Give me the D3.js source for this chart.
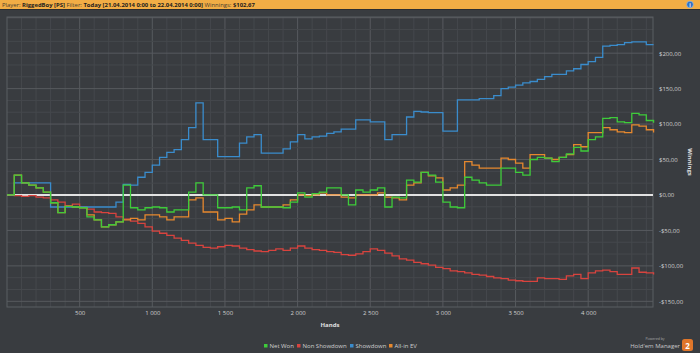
<!DOCTYPE html>
<html>
<head>
<meta charset="utf-8">
<script src="https://cdn.jsdelivr.net/npm/d3@7"></script>
<style>
  body { margin:0; background:#393c40; }
  svg { display:block; font-family:"Open Sans", sans-serif; }
</style>
</head>
<body>
<svg id="drawing_region"></svg>
<script>
// hands sampled every 50
const hands = d3.range(0, 4451, 50);

const netWon = [0,28,17,14,10,4,-11,-25,-16,-17,-18,-31,-35,-45,-42,-38,14,-18,-21,-18,
  -17,-18,-24,-21,-21,4,17,0,0,-18,-18,-17,-21,10,13,-17,-17,-17,-18,-10,
  3,-3,2,4,10,10,0,-14,7,4,7,10,-17,-3,-4,21,18,32,28,18,
  -10,-17,-18,25,21,17,14,14,38,38,32,28,50,53,52,47,53,58,67,62,
  78,82,108,109,103,102,115,113,105,102];

const nonShowdown = [0,-1,-2,-1,-3,-4,-7,-10,-15,-13,-17,-20,-24,-25,-26,-31,-34,-37,-40,-45,
  -51,-54,-57,-61,-64,-68,-71,-74,-75,-73,-71,-72,-75,-77,-79,-80,-78,-76,-78,-75,
  -72,-75,-77,-78,-80,-81,-84,-85,-83,-80,-76,-78,-82,-86,-90,-92,-95,-97,-99,-102,
  -104,-107,-108,-110,-112,-113,-115,-117,-118,-120,-121,-122,-122,-117,-118,-118,-119,-114,-112,-118,
  -110,-107,-106,-108,-112,-112,-103,-109,-110,-112];

const showdown = [0,17,17,17,17,17,-17,-17,-17,-17,-17,-17,-17,-17,-17,-10,15,14,25,32,
  42,53,60,64,78,95,130,78,78,54,54,54,73,82,85,59,59,59,65,75,
  85,79,82,83,87,89,93,93,106,106,103,103,78,85,85,110,118,117,116,116,
  90,90,134,134,134,136,136,140,150,152,155,158,160,163,167,170,170,175,178,184,
  188,194,210,211,212,215,216,216,212,212];

const allInEV = [0,28,17,14,10,4,-11,-25,-16,-17,-18,-28,-35,-45,-42,-38,-35,-33,-35,-28,
  -28,-31,-35,-31,-31,-7,-4,-24,-24,-35,-33,-38,-27,-21,-14,-17,-17,-17,-14,-7,
  0,-1,0,3,0,0,-3,-4,0,0,0,3,-3,-4,-7,14,17,32,27,24,
  7,10,14,47,42,38,38,38,52,50,45,38,57,57,52,50,53,57,71,68,
  88,88,95,92,89,88,99,97,92,88];

const series = [
  { name: 'Net Won',      color: '#3ecb3a', values: netWon },
  { name: 'Non Showdown', color: '#d8433e', values: nonShowdown },
  { name: 'Showdown',     color: '#3a8ccc', values: showdown },
  { name: 'All-in EV',    color: '#e6882e', values: allInEV }
];
const drawOrder = [1, 2, 3, 0];

const yTicks = [-150, -100, -50, 0, 50, 100, 150, 200];
const xTicks = [500, 1000, 1500, 2000, 2500, 3000, 3500, 4000];

const W = 700, H = 353;
const plot = { left: 7, right: 653, top: 17, bottom: 307 };

const svg = d3.select('#drawing_region').attr('width', W).attr('height', H);

svg.append('rect').attr('width', W).attr('height', H).attr('fill', '#393c40');

// header bar
svg.append('rect').attr('x', 0).attr('y', 0).attr('width', W).attr('height', 9).attr('fill', '#f2ad45');
svg.append('rect').attr('x', 0).attr('y', 9).attr('width', W).attr('height', 1).attr('fill', '#2c2e31');
const head = svg.append('text').attr('x', 2).attr('y', 6.5).attr('font-size', 5.9).attr('fill', '#2a2a2a');
[['Player: ', false], ['RiggedBoy [PS]', true], [' Filter: ', false],
 ['Today [21.04.2014 0:00 to 22.04.2014 0:00]', true], [' Winnings: ', false], ['$102,67', true]]
  .forEach(p => {
    head.append('tspan').text(p[0])
      .attr('font-weight', p[1] ? 'bold' : 'normal')
      .attr('fill', p[1] ? '#1e1e1e' : '#4a4030');
  });
svg.append('circle').attr('cx', 690).attr('cy', 4.5).attr('r', 3.3).attr('fill', '#2f6fc0').attr('stroke', '#9cc3ee').attr('stroke-width', 0.6);
svg.append('text').attr('x', 690).attr('y', 6.6).attr('text-anchor', 'middle').attr('font-size', 5).attr('font-weight', 'bold').attr('fill', '#fff').text('i');

const x = d3.scaleLinear().domain([0, 4446]).range([plot.left, plot.right]);
const y = d3.scaleLinear().domain([-158, 251]).range([plot.bottom, plot.top]);

const g = svg.append('g');

// grid
g.selectAll('.vminor').data(d3.range(100, 4446, 100)).join('line')
  .attr('x1', d => x(d)).attr('x2', d => x(d))
  .attr('y1', plot.top).attr('y2', plot.bottom)
  .attr('stroke', d => d % 500 === 0 ? '#575a5e' : '#45484c').attr('stroke-width', 1);
g.selectAll('.hminor').data(d3.range(-150, 251, 50 / 3)).join('line')
  .attr('x1', plot.left).attr('x2', plot.right)
  .attr('y1', d => y(d)).attr('y2', d => y(d))
  .attr('stroke', d => Math.abs(d % 50) < 0.01 || Math.abs(Math.abs(d % 50) - 50) < 0.01 ? '#575a5e' : '#45484c');
g.append('rect').attr('x', plot.left).attr('y', plot.top)
  .attr('width', plot.right - plot.left).attr('height', plot.bottom - plot.top)
  .attr('fill', 'none').attr('stroke', '#5b5e62');

// zero line
g.append('line').attr('x1', plot.left).attr('x2', plot.right)
  .attr('y1', y(0)).attr('y2', y(0)).attr('stroke', '#e2e2e2').attr('stroke-width', 2);

// lines
const line = d3.line().x((d, i) => x(hands[i])).y(d => y(d)).curve(d3.curveStepAfter);
drawOrder.forEach(k => {
  g.append('path').datum(series[k].values)
    .attr('fill', 'none').attr('stroke', series[k].color)
    .attr('stroke-width', 1.3).attr('d', line);
});

// axes (labels only)
const fmt = v => (v < 0 ? '-' : '') + '$' + Math.abs(v) + ',00';
const yAxis = d3.axisRight(y).tickValues(yTicks).tickSize(0).tickPadding(0).tickFormat(fmt);
svg.append('g').attr('transform', `translate(${plot.right + 6},0)`).call(yAxis)
  .call(a => a.select('.domain').remove())
  .selectAll('text').attr('font-size', 6).attr('fill', '#d0d0d0').attr('font-family', '"Open Sans", sans-serif');

const xAxis = d3.axisBottom(x).tickValues(xTicks).tickSize(0).tickPadding(0)
  .tickFormat(v => d3.format(',')(v).replace(',', ' '));
svg.append('g').attr('transform', `translate(0,${plot.bottom + 4})`).call(xAxis)
  .call(a => a.select('.domain').remove())
  .selectAll('text').attr('font-size', 6).attr('fill', '#d0d0d0').attr('font-family', '"Open Sans", sans-serif');

svg.append('text').attr('x', 330).attr('y', 327).attr('text-anchor', 'middle')
  .attr('font-size', 6).attr('font-weight', 'bold').attr('fill', '#e0e0e0').text('Hands');
svg.append('text').attr('transform', 'translate(688,162) rotate(90)').attr('text-anchor', 'middle')
  .attr('font-size', 6).attr('font-weight', 'bold').attr('fill', '#e0e0e0').text('Winnings');

// legend
const legendX = [264, 297, 350, 389];
series.forEach((s, i) => {
  svg.append('rect').attr('x', legendX[i]).attr('y', 344).attr('width', 3.5).attr('height', 3.5).attr('fill', s.color);
  svg.append('text').attr('x', legendX[i] + 5.5).attr('y', 348).attr('font-size', 6).attr('fill', '#cfcfcf').text(s.name);
});

// logo
svg.append('text').attr('x', 655).attr('y', 340).attr('text-anchor', 'middle').attr('font-size', 3.5).attr('fill', '#aaa').text('Powered by');
svg.append('text').attr('x', 680).attr('y', 348).attr('text-anchor', 'end').attr('font-size', 6).attr('fill', '#c8c8c8').text("Hold'em Manager");
svg.append('rect').attr('x', 682).attr('y', 339).attr('width', 11).attr('height', 12).attr('rx', 2.5).attr('fill', '#e0762a');
svg.append('text').attr('x', 687.5).attr('y', 348.5).attr('text-anchor', 'middle').attr('font-size', 8).attr('font-weight', 'bold').attr('fill', '#fff').text('2');
</script>
</body>
</html>
